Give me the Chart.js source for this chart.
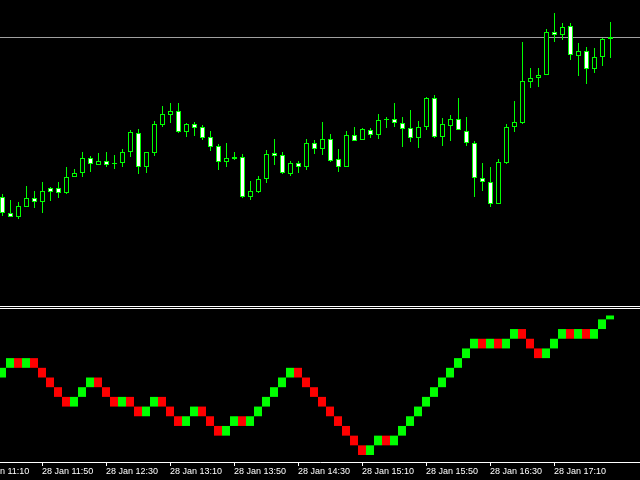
<!DOCTYPE html>
<html>
<head>
<meta charset="utf-8">
<script src="https://cdn.jsdelivr.net/npm/chart.js@4.4.0/dist/chart.umd.min.js"></script>
<style>
    html, body { margin: 0; padding: 0; background: #000; overflow: hidden; }
    canvas { display: block; }
    .sep { height: 1px; background: #fff; }
    .gap { height: 1px; background: #000; }
</style>
</head>
<body>
<canvas id="priceChart" width="640" height="306"></canvas>
<div class="sep"></div><div class="gap"></div><div class="sep"></div>
<canvas id="renkoChart" width="640" height="171"></canvas>
<script>
'use strict';

// M5 candles, price in chart units (bottom of the price pane = 0)
const opens  = [108, 92, 88, 98, 107, 103, 117, 117, 112, 128, 132, 147, 140, 144, 141, 142, 153, 172, 138, 152,
                180, 190, 194, 173, 181, 178, 168, 159, 143, 148, 148, 108, 113, 126, 152, 150, 131, 142, 138, 162,
                156, 166, 146, 138, 170, 165, 175, 170, 185, 186, 182, 177, 167, 178, 207, 168, 179, 186, 174, 162,
                127, 123, 101, 142, 178, 182, 223, 227, 230, 273, 270, 279, 249, 254, 236, 248, 266];
const highs  = [111, 105, 103, 119, 114, 123, 118, 123, 138, 136, 153, 149, 152, 153, 150, 156, 175, 176, 153, 184,
                199, 202, 202, 182, 183, 180, 174, 161, 162, 153, 151, 124, 129, 155, 166, 153, 144, 144, 166, 165,
                183, 171, 156, 174, 178, 177, 177, 191, 188, 202, 188, 195, 184, 208, 210, 187, 190, 207, 188, 164,
                142, 138, 146, 181, 204, 263, 237, 237, 276, 292, 282, 282, 262, 258, 257, 267, 283];
const lows   = [89, 88, 86, 98, 97, 92, 104, 107, 111, 128, 128, 133, 140, 138, 136, 138, 148, 131, 132, 149,
                178, 182, 172, 168, 169, 165, 154, 135, 138, 145, 107, 105, 112, 122, 140, 131, 129, 132, 135, 151,
                150, 143, 133, 138, 164, 165, 167, 166, 177, 178, 158, 163, 157, 175, 167, 159, 164, 175, 159, 108,
                114, 98, 101, 141, 173, 181, 217, 218, 230, 263, 265, 245, 229, 221, 232, 239, 247];
const closes = [92, 88, 99, 107, 103, 114, 113, 112, 128, 132, 147, 141, 144, 140, 142, 153, 173, 138, 153, 181,
                191, 194, 173, 181, 177, 167, 158, 143, 147, 146, 108, 114, 126, 151, 149, 132, 142, 138, 162, 156,
                166, 144, 138, 170, 164, 176, 170, 185, 186, 182, 176, 167, 178, 207, 168, 181, 186, 175, 162, 127,
                123, 101, 143, 178, 183, 224, 227, 230, 273, 270, 278, 250, 254, 236, 248, 266, 268];
const priceLine = 267.5;

// Renko bricks in the lower pane: level of each brick and its direction (1 = up, 0 = down)
const renkoLevels = [8, 9, 9, 9, 9, 8, 7, 6, 5, 5, 6, 7, 7, 6, 5, 5, 5, 4, 4, 5,
                     5, 4, 3, 3, 4, 4, 3, 2, 2, 3, 3, 3, 4, 5, 6, 7, 8, 8, 7, 6,
                     5, 4, 3, 2, 1, 0, 0, 1, 1, 1, 2, 3, 4, 5, 6, 7, 8, 9, 10, 11,
                     11, 11, 11, 11, 12, 12, 11, 10, 10, 11, 12, 12, 12, 12, 12, 13, 14];
const renkoUp     = [1, 1, 0, 1, 0, 0, 0, 0, 0, 1, 1, 1, 0, 0, 0, 1, 0, 0, 1, 1,
                     0, 0, 0, 1, 1, 0, 0, 0, 1, 1, 0, 1, 1, 1, 1, 1, 1, 0, 0, 0,
                     0, 0, 0, 0, 0, 0, 1, 1, 0, 1, 1, 1, 1, 1, 1, 1, 1, 1, 1, 1,
                     0, 1, 0, 1, 1, 0, 0, 0, 1, 1, 1, 0, 1, 0, 1, 1, 1];
const lastBrickTop = 14.4; // current brick is still forming

// Time axis: bar index of each label and its text
const tickBars   = [-3, 5, 13, 21, 29, 37, 45, 53, 61, 69];
const tickLabels = ['28 Jan 11:10', '28 Jan 11:50', '28 Jan 12:30', '28 Jan 13:10', '28 Jan 13:50',
                    '28 Jan 14:30', '28 Jan 15:10', '28 Jan 15:50', '28 Jan 16:30', '28 Jan 17:10'];

const LIME = '#00ff00';
const RED = '#ff0000';

// Candle bodies and wicks as floating bars
const bodies = opens.map(function(o, i) {
    return { x: i, y: [Math.min(o, closes[i]), Math.max(o, closes[i])] };
});
const wicks = highs.map(function(h, i) {
    return { x: i, y: [lows[i], h] };
});
const bodyFill = opens.map(function(o, i) {
    return closes[i] > o ? '#000000' : '#ffffff';
});

new Chart(document.getElementById('priceChart'), {
    type: 'bar',
    data: {
        datasets: [{
            label: 'Body',
            data: bodies,
            backgroundColor: bodyFill,
            borderColor: LIME,
            borderWidth: 1,
            borderSkipped: false,
            barThickness: 5,
            inflateAmount: 0,
            grouped: false,
            order: 0
        }, {
            label: 'Wick',
            data: wicks,
            backgroundColor: LIME,
            borderWidth: 0,
            barThickness: 1,
            inflateAmount: 0,
            grouped: false,
            order: 1
        }, {
            type: 'line',
            label: 'Price',
            data: [{ x: -1, y: priceLine }, { x: 81, y: priceLine }],
            borderColor: '#a0a0a0',
            borderWidth: 1,
            pointRadius: 0,
            order: 2
        }]
    },
    options: {
        responsive: false,
        animation: false,
        layout: { padding: 0 },
        scales: {
            x: { type: 'linear', offset: false, min: -0.3125, max: 79.6875, display: false },
            y: { min: -1, max: 305, display: false }
        },
        plugins: {
            legend: { display: false },
            tooltip: { enabled: false }
        }
    }
});

const bricks = renkoLevels.map(function(lvl, i) {
    const top = i === renkoLevels.length - 1 ? lastBrickTop : lvl + 1;
    return { x: i, y: [lvl, top] };
});

new Chart(document.getElementById('renkoChart'), {
    type: 'bar',
    data: {
        datasets: [{
            label: 'Renko',
            data: bricks,
            backgroundColor: renkoUp.map(function(u) { return u ? LIME : RED; }),
            borderWidth: 0,
            barThickness: 8,
            inflateAmount: 0,
            grouped: false
        }]
    },
    options: {
        responsive: false,
        animation: false,
        layout: { padding: 0 },
        scales: {
            x: {
                type: 'linear',
                offset: false,
                min: -0.25,
                max: 79.75,
                position: 'bottom',
                afterBuildTicks: function(scale) {
                    scale.ticks = tickBars.map(function(v) { return { value: v }; });
                },
                afterFit: function(scale) {
                    scale.height = 18;
                    scale.paddingLeft = 0;
                    scale.paddingRight = 0;
                },
                ticks: {
                    autoSkip: false,
                    maxRotation: 0,
                    minRotation: 0,
                    align: 'start',
                    padding: 0,
                    color: '#ffffff',
                    font: { family: 'Liberation Sans', size: 9 },
                    callback: function(value) {
                        return tickLabels[tickBars.indexOf(value)];
                    }
                },
                grid: {
                    offset: false,
                    drawOnChartArea: false,
                    drawTicks: true,
                    tickLength: 4,
                    color: '#ffffff'
                },
                border: { display: true, color: '#ffffff', width: 1 }
            },
            y: { min: -0.72, max: 15.07, display: false }
        },
        plugins: {
            legend: { display: false },
            tooltip: { enabled: false }
        }
    }
});
</script>
</body>
</html>
